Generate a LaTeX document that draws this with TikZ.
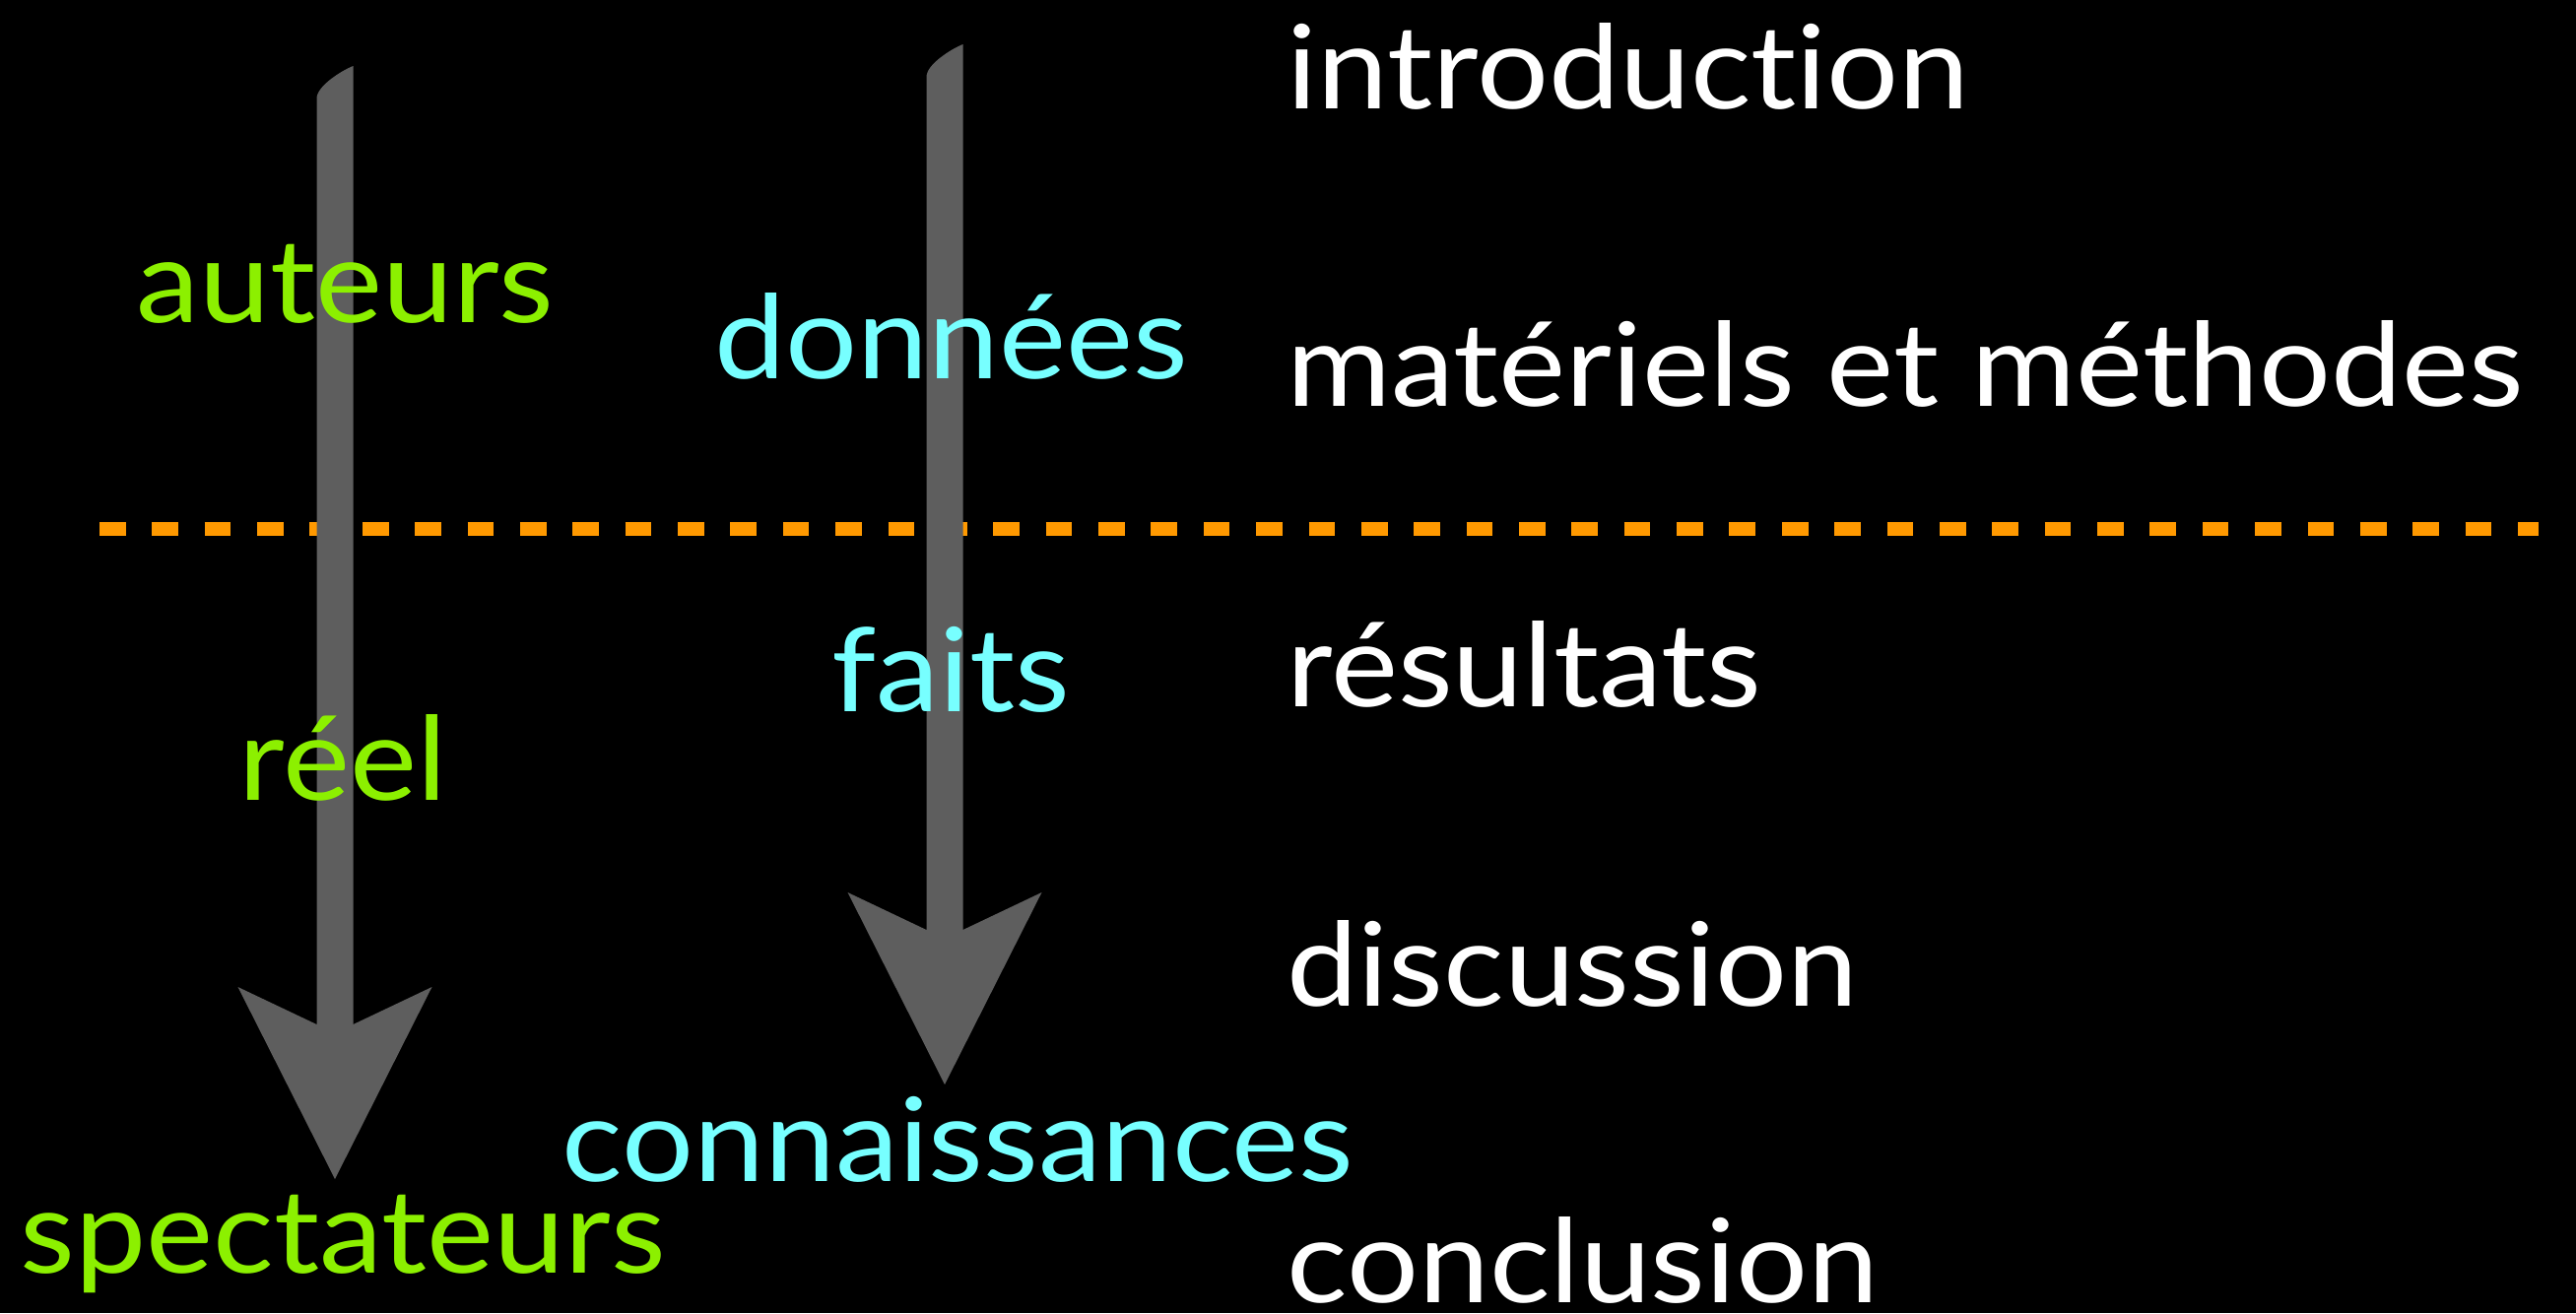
\documentclass[tikz,border=0pt]{standalone}
\usepackage{fontspec}
\setmainfont{Lato}[Ligatures=NoCommon, FakeStretch=1.09]
\usetikzlibrary{calc}
\definecolor{arrowgray}{HTML}{5E5E5E}
\definecolor{sepgold}{HTML}{FF9900}
\definecolor{leafgreen}{HTML}{8CF000}
\definecolor{skycyan}{HTML}{77FFFF}
\newcommand\slidefont{\fontsize{33.6}{40}\selectfont}
\tikzset{
  partlabel/.style={
    anchor=base west,
    inner sep=0pt,
    text=white,
    font=\slidefont
  },
  actorlabel/.style={partlabel, text=leafgreen},
  factlabel/.style={partlabel, text=skycyan},
  arrowbody/.style={fill=arrowgray},
  sepline/.style={draw=sepgold, line width=0.14cm, dash pattern=on 0.2667cm off 0.2667cm}
}
% fat grey arrow from a top coordinate down to a tip coordinate
\newcommand\fatarrow[2]{%
  \fill[arrowbody] ($(#1)+(-18.5,33)$)
    .. controls ($(#1)+(-18.5,20)$) and ($(#1)+(8,4)$) .. ($(#1)+(18.5,0)$)
    -- ($(#2)+(18.5,-157)$) -- ($(#2)+(98.5,-195)$) -- (#2)
    -- ($(#2)+(-98.5,-195)$) -- ($(#2)+(-18.5,-157)$) -- cycle;}

\begin{document}
\begin{tikzpicture}[x=0.01cm, y=-0.01cm]
\useasboundingbox (0,0) rectangle (2615,1333);
\fill[black] (0,0) rectangle (2615,1333);

% separator
\coordinate (sepL) at (101,537);
\coordinate (sepR) at (2577,537);
\draw[sepline] (sepL) -- (sepR);

% arrows
\coordinate (actTop) at (340,67);
\coordinate (actTip) at (340,1197);
\coordinate (datTop) at (959,45);
\coordinate (datTip) at (959,1101);
\fatarrow{actTop}{actTip}
\fatarrow{datTop}{datTip}

% paper sections
\node[partlabel] (intro) at (1306,110) {introduction};
\node[partlabel] (methods) at (1306,412) {matériels et méthodes};
\node[partlabel] (results) at (1306,717) {résultats};
\node[partlabel] (discuss) at (1306,1021) {discussion};
\node[partlabel] (concl) at (1306,1322) {conclusion};

% left column
\node[actorlabel] (authors) at (138,327) {auteurs};
\node[actorlabel] (real) at (242,812) {réel};
\node[actorlabel] (viewers) at (20,1292) {spectateurs};

% middle column
\node[factlabel] (data) at (725,384) {données};
\node[factlabel] (facts) at (844,722) {faits};
\node[factlabel] (knowledge) at (570,1199) {connaissances};
\end{tikzpicture}
\end{document}
